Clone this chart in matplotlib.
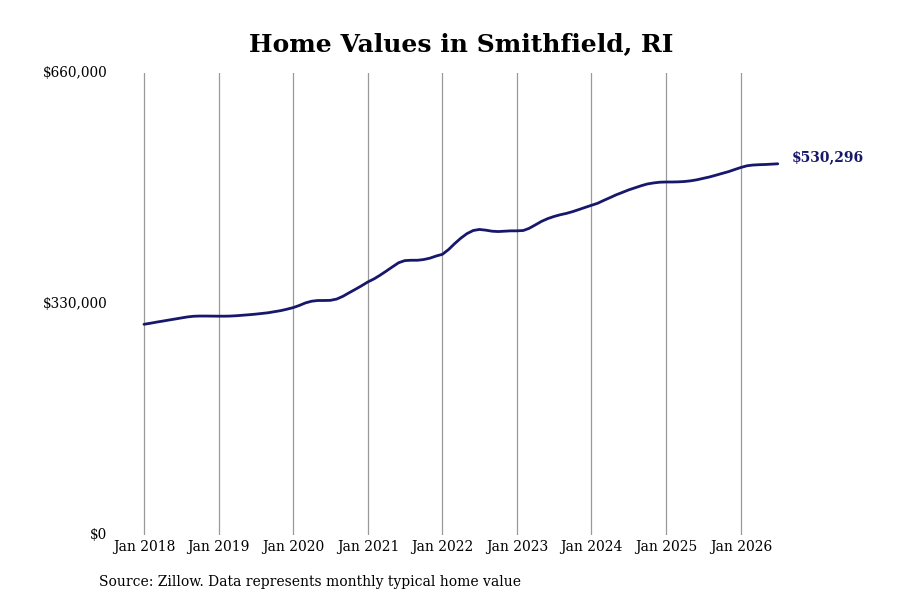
import matplotlib
matplotlib.use("Agg")
import matplotlib.pyplot as plt
import matplotlib.dates as mdates
import pandas as pd
import numpy as np

# Monthly typical home values (in thousands of $), Jan 2018 - Jul 2026
values_2018 = [301.0, 302.5, 304.0, 305.5, 307.0, 308.5, 310.0, 311.5, 312.5, 312.8, 312.8, 312.7]
values_2019 = [312.6, 312.6, 312.8, 313.3, 314.0, 314.7, 315.5, 316.5, 317.5, 319.0, 320.5, 322.5]
values_2020 = [324.8, 328.0, 331.5, 334.0, 335.0, 335.0, 335.2, 337.0, 341.0, 346.0, 351.0, 356.0]
values_2021 = [361.5, 366.0, 371.0, 377.0, 383.0, 389.0, 392.0, 392.5, 392.5, 393.5, 395.5, 398.5]
values_2022 = [401.0, 408.0, 416.0, 424.0, 430.5, 435.0, 436.5, 435.5, 434.0, 433.5, 434.0, 434.5]
values_2023 = [434.5, 435.0, 438.0, 443.0, 448.0, 452.0, 455.0, 457.5, 459.5, 462.0, 465.0, 468.0]
values_2024 = [471.0, 474.0, 478.0, 482.0, 486.0, 489.5, 493.0, 496.0, 499.0, 501.5, 503.0, 504.0]
values_2025 = [504.3, 504.3, 504.5, 505.0, 506.0, 507.5, 509.5, 511.5, 514.0, 516.5, 519.0, 522.0]
values_2026 = [525.0, 527.5, 528.5, 529.0, 529.3, 529.8, 530.296]

start_month = "2018-01-01"
tick_years = [2018, 2019, 2020, 2021, 2022, 2023, 2024, 2025, 2026]
y_ticks = [0, 330000, 660000]
y_labels = ["$0", "$330,000", "$660,000"]
title = "Home Values in Smithfield, RI"
source = "Source: Zillow. Data represents monthly typical home value"

values = np.array(values_2018 + values_2019 + values_2020 + values_2021 + values_2022
                  + values_2023 + values_2024 + values_2025 + values_2026) * 1000
dates = pd.date_range(start_month, periods=len(values), freq="MS")

plt.rcParams['font.family'] = ['DejaVu Serif']

W, H = 900, 600
fig = plt.figure(figsize=(9, 6), dpi=100)
ax_left, ax_right, ax_top, ax_bot = 110, 790, 73, 535
ax = fig.add_axes([ax_left / W, 1 - ax_bot / H, (ax_right - ax_left) / W, (ax_bot - ax_top) / H])

line_color = "#17176b"
ax.plot(dates, values, color=line_color, lw=2.0, solid_capstyle="round")

# x range: Jan 2018 at px 144, ~74.6 px per year
d0 = mdates.date2num(pd.Timestamp("2018-01-01"))
px_per_day = 74.6 / 365.25
ax.set_xlim(d0 - (144 - ax_left) / px_per_day, d0 + (ax_right - 144) / px_per_day)
ax.set_ylim(0, 660000)

ticks = [pd.Timestamp(f"{y}-01-01") for y in tick_years]
ax.set_xticks(ticks)
ax.set_xticklabels([f"Jan {y}" for y in tick_years], fontsize=10)
ax.set_yticks(y_ticks)
ax.set_yticklabels(y_labels, fontsize=9.8)
ax.tick_params(axis="x", length=0, pad=3.5)
ax.tick_params(axis="y", length=0, pad=2)
for lab in ax.get_yticklabels():
    lab.set_verticalalignment("center")
ax.grid(axis="x", color="#999999", lw=0.9)
ax.grid(axis="y", visible=False)
for s in ax.spines.values():
    s.set_visible(False)

ax.annotate(f"${values[-1]:,.0f}", xy=(dates[-1], values[-1]), xytext=(10, 4.5),
            textcoords="offset points", color=line_color, fontsize=10,
            fontweight="bold", va="center", ha="left")

fig.text(461 / W, 1 - 44 / H, title, ha="center", va="center", fontsize=18, fontweight="bold")
fig.text(99 / W, 1 - 582 / H, source, ha="left", va="center", fontsize=10)

fig.savefig("out.png", dpi=100)
